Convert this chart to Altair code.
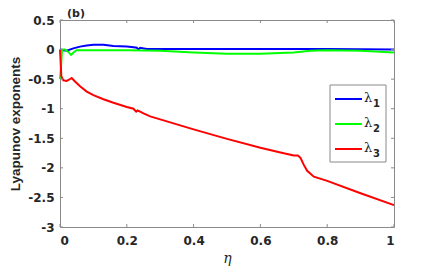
import altair as alt
import pandas as pd

eta_blue = [0, 0.01, 0.02, 0.04, 0.06, 0.08, 0.1, 0.13, 0.16, 0.2, 0.22, 0.23, 0.235, 0.24, 0.26, 0.3, 0.5, 0.7, 0.8, 1.0]
lam1 = [0, -0.01, -0.02, 0.02, 0.05, 0.07, 0.08, 0.08, 0.06, 0.05, 0.04, 0.03, 0.0, 0.03, 0.01, 0.01, 0.01, 0.01, 0.01, 0.0]

eta_green = [0, 0.003, 0.006, 0.015, 0.025, 0.033, 0.042, 0.05, 0.1, 0.2, 0.3, 0.4, 0.5, 0.6, 0.7, 0.75, 0.8, 0.9, 1.0]
lam2 = [-0.5, -0.3, 0.0, 0.0, -0.04, -0.09, -0.04, -0.01, -0.01, -0.01, -0.02, -0.05, -0.07, -0.07, -0.05, -0.02, -0.01, -0.02, -0.05]

eta_red = [0, 0.004, 0.01, 0.02, 0.027, 0.035, 0.045, 0.06, 0.08, 0.1, 0.13, 0.16, 0.2, 0.22, 0.228, 0.232, 0.24,
           0.25, 0.27, 0.3, 0.4, 0.5, 0.6, 0.66, 0.7, 0.712, 0.72, 0.73, 0.74, 0.76, 0.8, 0.9, 1.0]
lam3 = [0, -0.45, -0.52, -0.53, -0.51, -0.48, -0.54, -0.62, -0.71, -0.77, -0.84, -0.9, -0.97, -1.0, -1.05, -1.03, -1.05,
        -1.08, -1.13, -1.18, -1.35, -1.51, -1.66, -1.74, -1.79, -1.79, -1.83, -1.95, -2.05, -2.15, -2.22, -2.43, -2.63]

x_ticks = [0, 0.2, 0.4, 0.6, 0.8, 1]
y_ticks = [0.5, 0, -0.5, -1, -1.5, -2, -2.5, -3]

W, H = 334, 207
FRAME = "#8a8a8a"
TXT = "#262626"
LFONT = "DejaVu Sans"

xs = alt.Scale(domain=[0, 1], nice=False)
ys = alt.Scale(domain=[-3, 0.5], nice=False)

xaxis = alt.Axis(values=x_ticks, labelExpr="datum.value + ''", title="η",
                 titleFont="DejaVu Serif", titleFontStyle="italic",
                 titleFontWeight="normal", titleFontSize=14, titlePadding=5,
                 labelPadding=8, labelOverlap=False, labelFontSize=12,
                 labelFont=LFONT, labelFontWeight="bold",
                 labelColor=TXT, titleColor=TXT, domain=False, ticks=False, grid=False)
yaxis = alt.Axis(values=y_ticks, labelExpr="datum.value + ''",
                 title="Lyapunov exponents", titleFontSize=13.5,
                 titleFont="Liberation Sans", titleFontWeight="bold", titlePadding=5,
                 labelPadding=6, labelOverlap=False, labelFontSize=12,
                 labelFont=LFONT, labelFontWeight="bold",
                 labelColor=TXT, titleColor=TXT, domain=False, ticks=False, grid=False)

def X(field):
    return alt.X(field, scale=xs, axis=xaxis)

def Y(field):
    return alt.Y(field, scale=ys, axis=yaxis)

def series(eta, vals, color):
    df = pd.DataFrame({"eta": eta, "v": vals})
    return alt.Chart(df).mark_line(color=color, strokeWidth=2).encode(x=X("eta:Q"), y=Y("v:Q"))

xt = pd.DataFrame({"t": x_ticks})
yt = pd.DataFrame({"t": y_ticks})
tick_color = FRAME
xb = alt.Chart(xt).mark_rule(color=tick_color).encode(x=X("t:Q"), y=alt.value(H), y2=alt.value(H - 3))
xtp = alt.Chart(xt).mark_rule(color=tick_color).encode(x=X("t:Q"), y=alt.value(0), y2=alt.value(3))
yl = alt.Chart(yt).mark_rule(color=tick_color).encode(y=Y("t:Q"), x=alt.value(0), x2=alt.value(3))
yr = alt.Chart(yt).mark_rule(color=tick_color).encode(y=Y("t:Q"), x=alt.value(W), x2=alt.value(W - 3))

title_b = alt.Chart(pd.DataFrame({"s": ["(b)"]})).mark_text(
    fontWeight="bold", fontSize=11, align="left", baseline="alphabetic", color=TXT, font=LFONT
).encode(text="s:N", x=alt.value(7), y=alt.value(-3))

# legend
names = ["λ1", "λ2", "λ3"]
colors = ["#0000ff", "#00ff00", "#ff0000"]
leg_box = alt.Chart(pd.DataFrame({"a": [0]})).mark_rect(fill="white", stroke=FRAME, strokeWidth=1).encode(
    x=alt.value(270), x2=alt.value(326), y=alt.value(65), y2=alt.value(142))
leg_layers = [leg_box]
row_y = [79, 104, 129]
for i, (n, c) in enumerate(zip(names, colors)):
    yy = row_y[i]
    leg_layers.append(alt.Chart(pd.DataFrame({"a": [0]})).mark_rule(color=c, strokeWidth=2).encode(
        x=alt.value(275), x2=alt.value(302), y=alt.value(yy)))
    leg_layers.append(alt.Chart(pd.DataFrame({"s": [n[0]]})).mark_text(
        fontSize=13, align="left", baseline="middle", color=TXT, font="DejaVu Serif").encode(
        text="s:N", x=alt.value(304), y=alt.value(yy - 1)))
    leg_layers.append(alt.Chart(pd.DataFrame({"s": [n[1]]})).mark_text(
        fontSize=10, fontWeight="bold", align="left", baseline="middle", color=TXT, font=LFONT).encode(
        text="s:N", x=alt.value(313), y=alt.value(yy + 5)))

chart = alt.layer(
    series(eta_blue, lam1, "#0000ff"),
    series(eta_green, lam2, "#00ff00"),
    series(eta_red, lam3, "#ff0000"),
    xb, xtp, yl, yr, title_b, *leg_layers,
).properties(
    width=W, height=H, autosize="none",
    padding={"left": 52, "top": 12, "right": 30, "bottom": 50},
).configure_view(stroke=FRAME, strokeWidth=1)

chart.save("out.html", embed_options={"renderer": "svg", "actions": False})
